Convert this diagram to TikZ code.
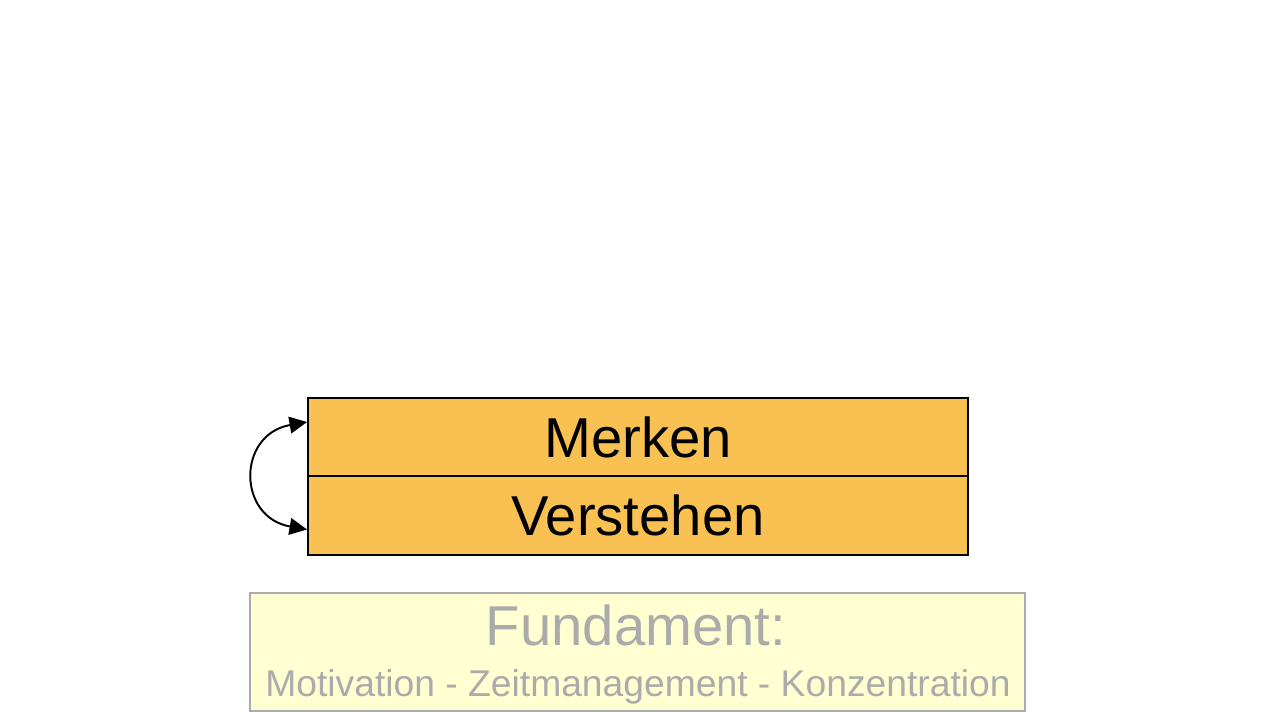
\documentclass[tikz,border=0pt]{standalone}
\usepackage{fontspec}
\setmainfont{Liberation Sans}
\usepackage{xcolor}
\usetikzlibrary{arrows.meta}
\definecolor{layerorange}{HTML}{F9C152}
\definecolor{basefill}{HTML}{FFFFD2}
\definecolor{basegray}{HTML}{ABABAB}
\tikzset{
	layer node/.style={rectangle,draw=black,line width=1.1pt,fill=layerorange,
		minimum width=13.2cm,minimum height=1.57cm,inner sep=0pt,
		font=\fontsize{32}{38}\selectfont},
	base node/.style={rectangle,draw=basegray,line width=1.1pt,fill=basefill,
		minimum width=15.5cm,minimum height=2.36cm,inner sep=0pt},
	base text/.style={text=basegray,inner sep=0pt}
}

\begin{document}
\begin{tikzpicture}[x=0.02cm,y=-0.02cm,>={Triangle[length=10pt,width=9.5pt]}]
            \useasboundingbox (0,0) rectangle (1280,720);
            \node [layer node] (merken) at (638,437) {Merken};
            \node [layer node] (verstehen) at (638,515.5) {Verstehen};
            \node [base node] (fundament) at (637.5,652) {};
            \node [base text,font=\fontsize{32}{38}\selectfont] (fundtitle) at (636,625) {Fundament:};
            \node [base text,font=\fontsize{21.2}{25}\selectfont] (fundlist) at (638,687) {Motivation - Zeitmanagement - Konzentration};
            \coordinate (top) at ([yshift=0.3cm]merken.west);
            \coordinate (bottom) at ([yshift=-0.28cm]verstehen.west);
            \draw [<->,line width=1.1pt] (top) to[out=190,in=170,looseness=1.7] (bottom);
\end{tikzpicture}
\end{document}
